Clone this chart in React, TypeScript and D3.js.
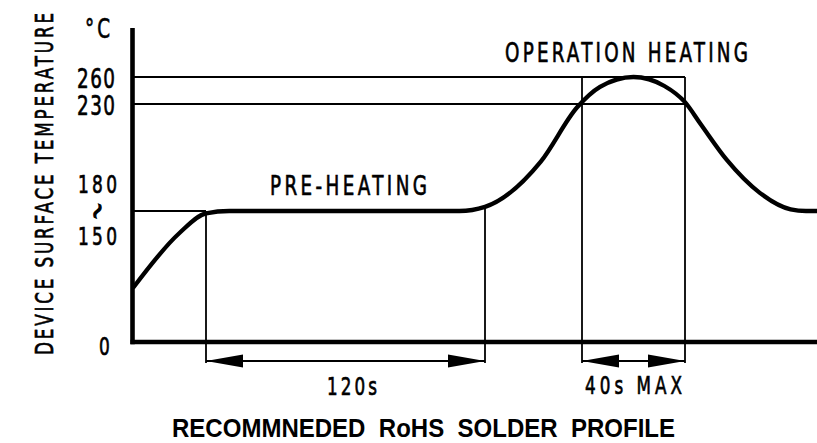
import * as d3 from "d3";

// reflow profile (seconds, °C)
const profileTime = [0, 19, 30, 40, 139, 150, 173, 188, 197, 210, 222, 230, 237, 249, 264, 278, 285, 290];
const profileTemp = [68, 137, 162, 165, 165, 167.5, 195, 228, 249, 260, 250, 232, 218, 196, 176, 166, 165, 165];

const refTemps = [260, 230];
const refLabels = ["260", "230"];
const preheatLevel = 165;
const preheatLabels = ["180", "150"];
const preheatSpan = [30, 150];
const peakSpan = [190, 230];
const spanLabels = ["120s", "40s MAX"];

const width = 817;
const height = 443;

// the sketch is schematic, so both scales are piecewise
const xScale = d3.scaleLinear()
  .domain([0, 30, 150, 190, 230, 290])
  .range([133, 206, 485, 582, 685, 817]);
const yScale = d3.scaleLinear()
  .domain([0, 165, 230, 260])
  .range([342, 211, 104, 77]);

const FONT = "'DejaVu Sans', Verdana, sans-serif";
const SX = 0.68;

// narrow CAD-ish lettering: squeeze glyphs, spread the spacing
function CadText({ x, y, w, size, sx = SX, children }: any) {
  return (
    <g transform={`translate(${x},${y}) scale(${sx},1)`}>
      <text
        fontFamily={FONT}
        fontSize={size}
        stroke="#000"
        strokeWidth={0.7}
        textLength={w ? w / sx : undefined}
        lengthAdjust={w ? "spacing" : undefined}
      >
        {children}
      </text>
    </g>
  );
}

function Arrow({ from, to, yy }: { from: number; to: number; yy: number }) {
  const head = 37;
  const half = 6.5;
  return (
    <g>
      <line x1={from} x2={to} y1={yy} y2={yy} stroke="#000" strokeWidth={1.8} />
      <path d={`M${from},${yy}L${from + head},${yy - half}L${from + head},${yy + half}Z`} fill="#000" />
      <path d={`M${to},${yy}L${to - head},${yy - half}L${to - head},${yy + half}Z`} fill="#000" />
    </g>
  );
}

export default function App() {
  const line = d3.line<number>()
    .x((_, i) => xScale(profileTime[i]))
    .y((d) => yScale(d))
    .curve(d3.curveMonotoneX);

  const x0 = xScale(0);
  const y0 = yScale(0);
  const axisTop = 28;
  const dimY = 361;
  const dimBottom = 363;

  return (
    <svg
      width={width}
      height={height}
      viewBox={`0 0 ${width} ${height}`}
      style={{ position: "absolute", left: 0, top: 0, background: "#fff" }}
    >
      {/* reference lines */}
      {refTemps.map((t) => (
        <line key={t} x1={x0} x2={xScale(peakSpan[1])} y1={yScale(t)} y2={yScale(t)} stroke="#000" strokeWidth={1.8} />
      ))}
      <line x1={x0} x2={xScale(preheatSpan[0])} y1={yScale(preheatLevel)} y2={yScale(preheatLevel)} stroke="#000" strokeWidth={1.8} />

      {/* dimension verticals */}
      <line x1={xScale(preheatSpan[0])} x2={xScale(preheatSpan[0])} y1={yScale(preheatLevel)} y2={dimBottom} stroke="#000" strokeWidth={1.8} />
      <line x1={xScale(preheatSpan[1])} x2={xScale(preheatSpan[1])} y1={yScale(167)} y2={dimBottom} stroke="#000" strokeWidth={1.8} />
      {peakSpan.map((t) => (
        <line key={t} x1={xScale(t)} x2={xScale(t)} y1={yScale(260)} y2={dimBottom} stroke="#000" strokeWidth={1.8} />
      ))}

      {/* axes */}
      <line x1={x0 - 0.5} x2={x0 - 0.5} y1={axisTop} y2={y0 + 2.2} stroke="#000" strokeWidth={4.6} />
      <line x1={x0 - 2.5} x2={width} y1={y0} y2={y0} stroke="#000" strokeWidth={4.4} />

      {/* profile */}
      <path d={line(profileTemp) || ""} fill="none" stroke="#000" strokeWidth={4.3} strokeLinejoin="round" />

      {/* dimension arrows */}
      <Arrow from={xScale(preheatSpan[0])} to={xScale(preheatSpan[1])} yy={dimY} />
      <Arrow from={xScale(peakSpan[0])} to={xScale(peakSpan[1])} yy={dimY} />

      {/* tick labels */}
      <CadText x={85} y={38} w={25} size={27}>°C</CadText>
      {refTemps.map((t, i) => (
        <CadText key={t} x={77} y={yScale(t) + 10.5} w={38} size={27}>{refLabels[i]}</CadText>
      ))}
      <CadText x={78} y={yScale(preheatLevel) - 18} w={39} size={25}>{preheatLabels[0]}</CadText>
      <g transform={`translate(97,${yScale(preheatLevel)}) rotate(-62) scale(1,1.3)`}>
        <text fontFamily={FONT} fontSize={22} textAnchor="middle" dy="0.33em" stroke="#000" strokeWidth={0.9}>~</text>
      </g>
      <CadText x={78} y={yScale(preheatLevel) + 34} w={39} size={25}>{preheatLabels[1]}</CadText>
      <CadText x={99} y={y0 + 13} size={25}>0</CadText>

      {/* axis title */}
      <g transform={`translate(53,355) rotate(-90) scale(${SX},1)`}>
        <text fontFamily={FONT} fontSize={24.7} stroke="#000" strokeWidth={0.7} textLength={342 / SX} lengthAdjust="spacing">
          DEVICE SURFACE TEMPERATURE
        </text>
      </g>

      {/* annotations */}
      <CadText x={270} y={195} w={157} size={27}>PRE-HEATING</CadText>
      <CadText x={505} y={62} w={243} size={27}>OPERATION HEATING</CadText>
      <CadText x={327} y={395} w={50} size={24.7}>{spanLabels[0]}</CadText>
      <CadText x={585} y={394} w={97} size={24.7}>{spanLabels[1]}</CadText>

      {/* caption */}
      <text
        x={172}
        y={437}
        fontFamily="'Liberation Sans', Arial, sans-serif"
        fontWeight="bold"
        fontSize={25.5}
        textLength={503}
        lengthAdjust="spacingAndGlyphs"
        style={{ whiteSpace: "pre" }}
      >
        {"RECOMMNEDED  RoHS  SOLDER  PROFILE"}
      </text>
    </svg>
  );
}
